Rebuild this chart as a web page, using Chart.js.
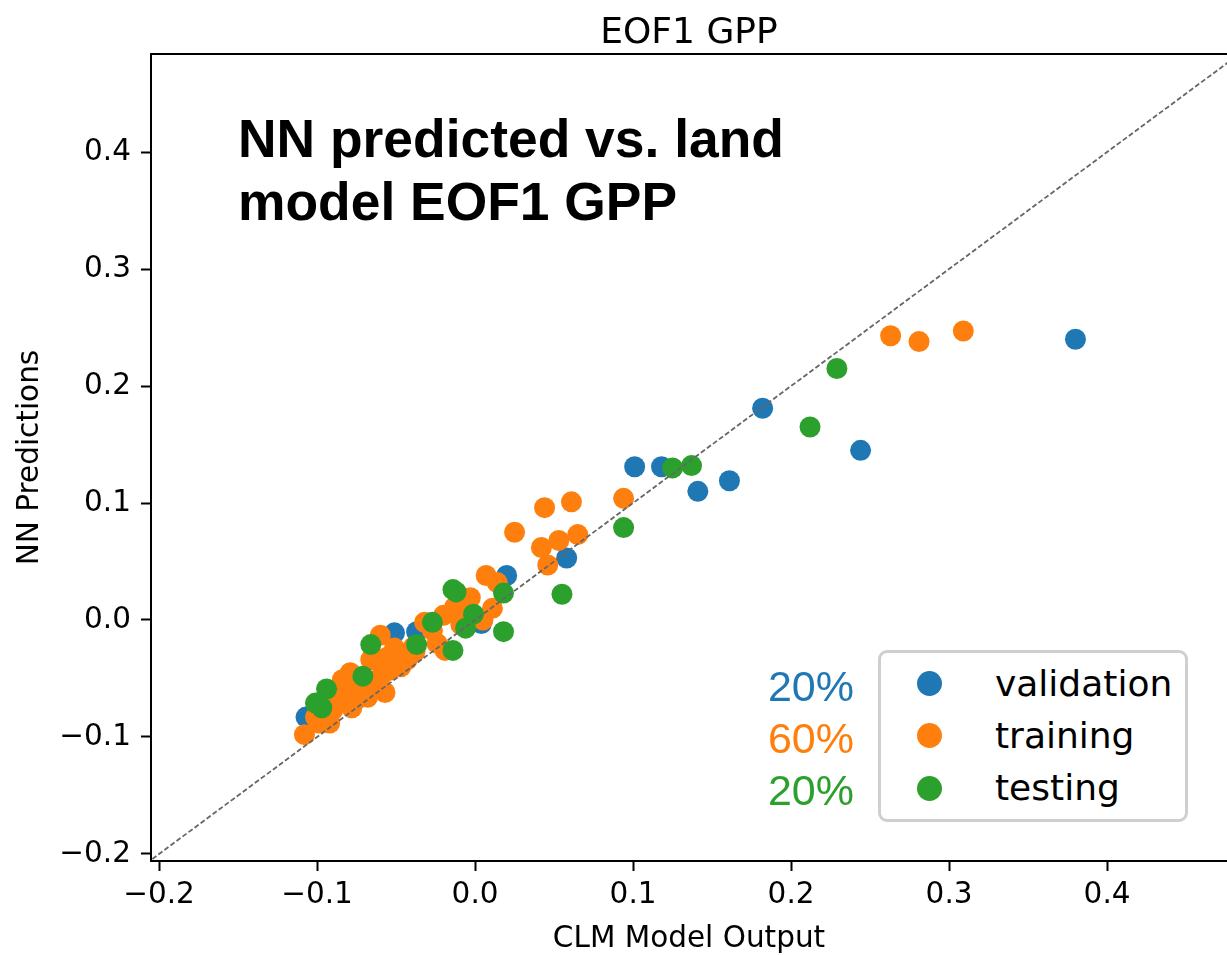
<!DOCTYPE html>
<html>
<head>
<meta charset="utf-8">
<title>EOF1 GPP</title>
<script src="https://cdn.jsdelivr.net/npm/chart.js@4.4.1/dist/chart.umd.min.js"></script>
<style>
  body { margin: 0; background: #fff; }
  #wrap { position: relative; width: 1227px; height: 955px; overflow: hidden; }
  #gppChart { position: absolute; left: 0; top: 0; }
  .lbl { position: absolute; white-space: nowrap; line-height: 1; }
  #plotTitle { left: 151px; width: 1076px; top: 10px; text-align: center;
               font: 36px "DejaVu Sans", sans-serif; color: #000; }
  .note { left: 238px; font: bold 53.4px "Liberation Sans", Arial, sans-serif; color: #000; }
  .share { right: 373px; text-align: right; font: 43px "Liberation Sans", Arial, sans-serif; }
  #legendBox { position: absolute; left: 878px; top: 650px; width: 304px; height: 166px;
               border: 3px solid #cfcfcf; border-radius: 9px; background: #fff; }
  .legDot { position: absolute; width: 25px; height: 25px; border-radius: 50%; }
  .legText { font: 36px "DejaVu Sans", sans-serif; color: #000; }
</style>
</head>
<body>
<div id="wrap">
  <canvas id="gppChart" width="1227" height="955"></canvas>
  <div id="plotTitle" class="lbl">EOF1 GPP</div>
  <div class="lbl note" style="top:108px">NN predicted vs. land</div>
  <div class="lbl note" style="top:171px">model EOF1 GPP</div>
  <div id="legendBox"></div>
</div>
<script>
// axis ticks
const xTicks = [-0.2, -0.1, 0.0, 0.1, 0.2, 0.3, 0.4];
const yTicks = [-0.2, -0.1, 0.0, 0.1, 0.2, 0.3, 0.4];

// CLM output (x) vs NN prediction (y) for each split
const validationX = [0.380, 0.244, 0.182, 0.161, 0.141, 0.101, 0.118, 0.058, 0.020, 0.004, -0.051, -0.037, -0.107, -0.087];
const validationY = [0.240, 0.145, 0.181, 0.119, 0.110, 0.131, 0.131, 0.053, 0.038, -0.003, -0.011, -0.010, -0.083, -0.062];

const trainingX = [0.309, 0.281, 0.263, 0.094, 0.065, 0.061, 0.053, 0.044, 0.042, 0.046,
                   0.025, 0.007, 0.014, 0.011, -0.003, -0.013, -0.020, 0.005, -0.027, -0.019,
                   -0.024, -0.039, -0.043, -0.047, -0.060, -0.056, -0.062, -0.066, -0.060, -0.057,
                   -0.068, -0.079, -0.084, -0.077, -0.075, -0.078, -0.090, -0.093, -0.092, -0.101,
                   -0.099, -0.108, -0.087, -0.068, -0.054, -0.047, -0.009, -0.032, -0.038, -0.051,
                   -0.006];
const trainingY = [0.247, 0.238, 0.243, 0.104, 0.073, 0.101, 0.068, 0.096, 0.062, 0.047,
                   0.075, 0.038, 0.032, 0.010, 0.019, 0.011, 0.004, 0.000, -0.009, -0.026,
                   -0.020, -0.023, -0.034, -0.040, -0.013, -0.032, -0.034, -0.034, -0.049, -0.062,
                   -0.066, -0.045, -0.051, -0.060, -0.068, -0.075, -0.077, -0.083, -0.088, -0.083,
                   -0.088, -0.098, -0.068, -0.057, -0.043, -0.032, -0.004, -0.002, -0.027, -0.024,
                   0.010];

const testingX = [0.229, 0.212, 0.137, 0.125, 0.094, 0.055, 0.018, 0.018, -0.014, -0.012,
                  -0.027, -0.001, -0.006, -0.014, -0.037, -0.066, -0.071, -0.094, -0.101, -0.097];
const testingY = [0.215, 0.165, 0.132, 0.130, 0.079, 0.022, 0.023, -0.010, 0.026, 0.024,
                  -0.002, 0.005, -0.007, -0.026, -0.021, -0.021, -0.048, -0.059, -0.071, -0.075];

// 1:1 reference line end points
const oneToOne = [-0.25, 0.5];

const splitNames = ['validation', 'training', 'testing'];
const splitShares = [20, 60, 20];
const splitColors = ['#1f77b4', '#ff7f0e', '#2ca02c'];

const toPoints = (xs, ys) => xs.map((x, i) => ({ x: x, y: ys[i] }));

const tickText = v => (v < 0 ? '\u2212' : '') + Math.abs(v).toFixed(1);
const tickFont = { family: 'DejaVu Sans', size: 29.5, lineHeight: 1.2 };
const axisFont = { family: 'DejaVu Sans', size: 29.5, lineHeight: 1.0 };

// matplotlib-style closed top spine
const topSpine = {
    id: 'topSpine',
    afterDraw(chart) {
        const { ctx, chartArea } = chart;
        ctx.save();
        ctx.strokeStyle = '#000';
        ctx.lineWidth = 2;
        ctx.beginPath();
        ctx.moveTo(chartArea.left - 1, chartArea.top);
        ctx.lineTo(chartArea.right, chartArea.top);
        ctx.stroke();
        ctx.restore();
    }
};

const scatterSet = (i, xs, ys, order) => ({
    type: 'scatter',
    label: splitNames[i],
    data: toPoints(xs, ys),
    backgroundColor: splitColors[i],
    borderWidth: 0,
    pointRadius: 10.5,
    pointHoverRadius: 10.5,
    order: order
});

const ctx = document.getElementById('gppChart').getContext('2d');
new Chart(ctx, {
    type: 'scatter',
    data: {
        datasets: [
            {
                type: 'line',
                data: oneToOne.map(v => ({ x: v, y: v })),
                borderColor: '#666666',
                borderWidth: 1.8,
                borderDash: [5, 2.5],
                pointRadius: 0,
                fill: false,
                order: 0
            },
            scatterSet(2, testingX, testingY, 1),
            scatterSet(1, trainingX, trainingY, 2),
            scatterSet(0, validationX, validationY, 3)
        ]
    },
    options: {
        responsive: false,
        devicePixelRatio: 1,
        animation: false,
        events: [],
        layout: { autoPadding: false, padding: { top: 54, right: 0, bottom: 0, left: 0 } },
        plugins: { legend: { display: false }, tooltip: { enabled: false } },
        scales: {
            x: {
                type: 'linear',
                min: -0.2051,
                max: 0.4759,
                afterFit: s => { s.height = 94; s.paddingLeft = 0; s.paddingRight = 0; },
                afterBuildTicks: s => { s.ticks = xTicks.map(v => ({ value: v })); },
                border: { display: true, color: '#000', width: 2 },
                grid: { drawOnChartArea: false, drawTicks: true, tickLength: 10, tickWidth: 2, tickColor: '#000' },
                ticks: { color: '#000', font: tickFont, padding: 7, maxRotation: 0, callback: tickText },
                title: { display: true, text: 'CLM Model Output', color: '#000',
                         font: axisFont, padding: { top: 0, bottom: 1 } }
            },
            y: {
                type: 'linear',
                min: -0.2060,
                max: 0.4838,
                afterFit: s => { s.width = 151; s.paddingTop = 0; s.paddingBottom = 0; },
                afterBuildTicks: s => { s.ticks = yTicks.map(v => ({ value: v })); },
                border: { display: true, color: '#000', width: 2 },
                grid: { drawOnChartArea: false, drawTicks: true, tickLength: 10, tickWidth: 2, tickColor: '#000' },
                ticks: { color: '#000', font: tickFont, padding: 10, callback: tickText },
                title: { display: true, text: 'NN Predictions', color: '#000',
                         font: axisFont, padding: { top: 16, bottom: 0 } }
            }
        }
    },
    plugins: [topSpine]
});

// legend rows and split percentages
const wrap = document.getElementById('wrap');
const legendBox = document.getElementById('legendBox');
splitNames.forEach((name, i) => {
    const share = document.createElement('div');
    share.className = 'lbl share';
    share.style.top = (662 + 52 * i) + 'px';
    share.style.color = splitColors[i];
    share.textContent = splitShares[i] + '%';
    wrap.appendChild(share);

    const dot = document.createElement('div');
    dot.className = 'legDot';
    dot.style.background = splitColors[i];
    dot.style.left = (929 - 12.5 - 881) + 'px';
    dot.style.top = (683 + 52.5 * i - 12.5 - 653) + 'px';
    legendBox.appendChild(dot);

    const txt = document.createElement('div');
    txt.className = 'lbl legText';
    txt.style.left = (995 - 881) + 'px';
    txt.style.top = (662.5 + 52 * i - 653) + 'px';
    txt.textContent = name;
    legendBox.appendChild(txt);
});
</script>
</body>
</html>
